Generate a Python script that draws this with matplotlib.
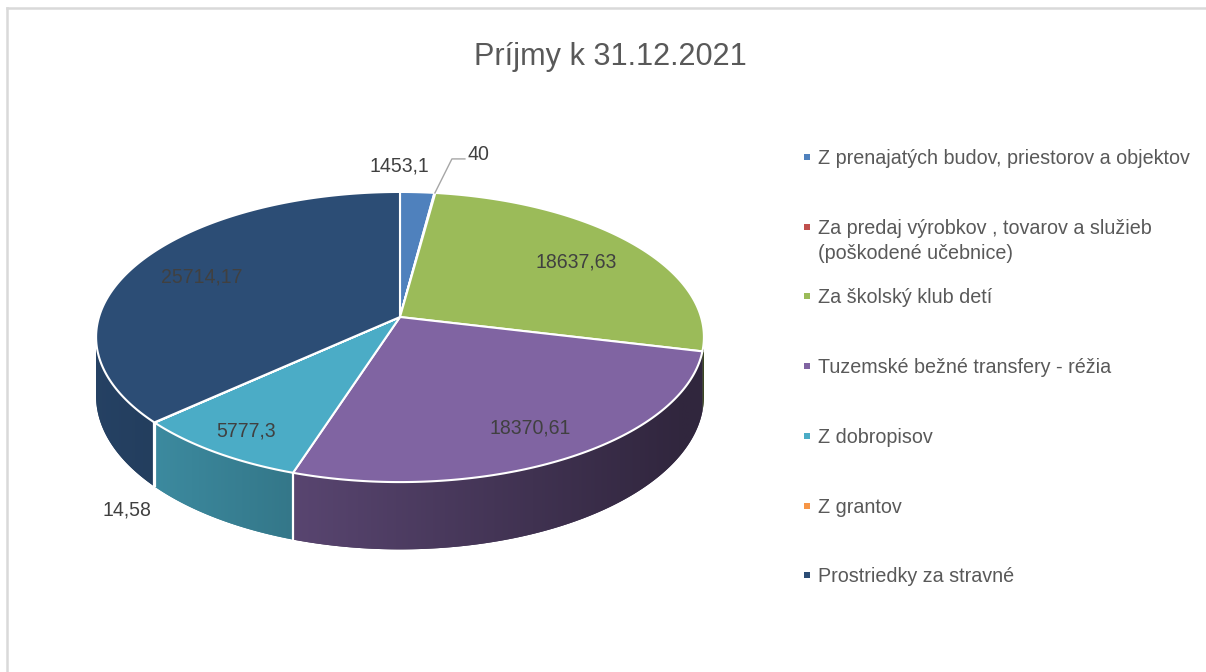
import numpy as np
import matplotlib
matplotlib.use("Agg")
import matplotlib.pyplot as plt
from matplotlib import font_manager
from matplotlib.patches import Polygon
from matplotlib.lines import Line2D
from matplotlib.colors import to_rgb

# ---------------- data ----------------
title = "Príjmy k 31.12.2021"
categories = [
    "Z prenajatých budov, priestorov a objektov",
    "Za predaj výrobkov , tovarov a služieb\n(poškodené učebnice)",
    "Za školský klub detí",
    "Tuzemské bežné transfery - réžia",
    "Z dobropisov",
    "Z grantov",
    "Prostriedky za stravné",
]
values = [1453.1, 40, 18637.63, 18370.61, 5777.3, 14.58, 25714.17]
value_labels = ["1453,1", "40", "18637,63", "18370,61", "5777,3", "14,58", "25714,17"]
colors = ["#4F81BD", "#C0504D", "#9BBB59", "#8064A2", "#4BACC6", "#F79646", "#2C4D75"]

# ---------------- fonts ----------------
names = {f.name for f in font_manager.fontManager.ttflist}
narrow = "Liberation Sans Narrow" in names
FONT = "Liberation Sans Narrow" if narrow else "Liberation Sans"
SC = 1.0 if narrow else 0.85
SCL = 1.0 if narrow else 0.9

W, H, DPI = 1206, 672, 100
fig = plt.figure(figsize=(W / DPI, H / DPI), dpi=DPI)
ax = fig.add_axes([0, 0, 1, 1])
ax.axis("off")


def pt(px):
    return px * 72 / DPI


# ---------------- 3D pie geometry ----------------
CX, CY = 400, 317      # projected centre of the top face
RX, RY = 301, 142.3    # projected radii
K = 0.138              # perspective factor
DEPTH = 58             # wall height


def proj(theta, r=1.0, down=0.0):
    t = np.radians(theta)
    den = 1 + K * r * np.cos(t)
    x = CX + RX * r * np.sin(t) / den
    y = CY - RY * r * np.cos(t) / den + down / den
    return x, y


total = float(np.sum(values))
cum = np.concatenate([[0.0], np.cumsum(values)]) / total * 360.0
tv1 = np.degrees(np.arccos(-K))
tv2 = 360.0 - tv1


def shade(x):
    return np.clip(0.85 - 0.0008 * (x - 95), 0.38, 0.9)


# walls: one polygon per slice, filled by a horizontal gradient image
for i, (a0, a1) in enumerate(zip(cum[:-1], cum[1:])):
    lo, hi = max(a0, tv1), min(a1, tv2)
    if hi <= lo:
        continue
    n = max(2, int((hi - lo) / 0.25) + 2)
    th = np.linspace(lo, hi, n)
    top = [proj(t) for t in th]
    bot = [proj(t, down=DEPTH) for t in th[::-1]]
    verts = np.array(top + bot)
    base = np.array(to_rgb(colors[i]))
    poly = Polygon(verts, closed=True, facecolor=base * float(shade(verts[:, 0].mean())),
                   edgecolor="none", lw=0, zorder=1)
    ax.add_patch(poly)
    xmin, xmax = verts[:, 0].min() - 1, verts[:, 0].max() + 1
    ymin, ymax = verts[:, 1].min() - 1, verts[:, 1].max() + 1
    xs = np.linspace(xmin, xmax, 200)
    img = np.clip(base[None, None, :] * shade(xs)[None, :, None], 0, 1)
    im = ax.imshow(img, extent=[xmin, xmax, ymax, ymin], aspect="auto",
                   interpolation="bilinear", zorder=1.5)
    im.set_clip_path(poly)

# wall separators (skip the ones hugging the silhouette)
for a in cum[1:-1]:
    if tv1 + 10 < a < tv2 - 10:
        x0, y0 = proj(a)
        x1, y1 = proj(a, down=DEPTH)
        ax.plot([x0, x1], [y0, y1], color="white", lw=1.6, zorder=2, solid_capstyle="butt")

# top faces
for i, (a0, a1) in enumerate(zip(cum[:-1], cum[1:])):
    n = max(2, int((a1 - a0) / 0.5) + 2)
    th = np.linspace(a0, a1, n)
    pts = [(CX, CY)] + [proj(t) for t in th]
    ax.add_patch(Polygon(pts, closed=True, facecolor=colors[i], edgecolor="white",
                         lw=1.5, joinstyle="round", zorder=3))

# ---------------- data labels ----------------
LBL = pt(23) * SC
LCOL = "#404040"
cap = 0.716 * 23 * SC
inside_r = {2: 0.75, 3: 0.8, 4: 0.85, 6: 0.75}
for i, r in inside_r.items():
    mid = (cum[i] + cum[i + 1]) / 2
    x, y = proj(mid, r=r)
    ax.text(x, y + cap / 2, value_labels[i], fontsize=LBL, family=FONT, color=LCOL,
            ha="center", va="baseline", zorder=5)

# blue slice label (outside, above)
x, y = proj(cum[1])
ax.text(x - 5, y - 28 + cap / 2, value_labels[0], fontsize=LBL, family=FONT, color=LCOL,
        ha="right", va="baseline", zorder=5)

# red slice label with leader
x, y = proj((cum[1] + cum[2]) / 2)
ax.plot([x, x + 17, x + 30], [y, y - 34, y - 34], color="#A6A6A6", lw=1.0, zorder=4)
ax.text(x + 33, y - 40 + cap / 2, value_labels[1], fontsize=LBL, family=FONT, color=LCOL,
        ha="left", va="baseline", zorder=5)

# orange slice label (outside, below)
x, y = proj((cum[5] + cum[6]) / 2, down=DEPTH)
ax.text(x - 3, y + 22.5 + cap / 2, value_labels[5], fontsize=LBL, family=FONT, color=LCOL,
        ha="right", va="baseline", zorder=5)

# ---------------- title ----------------
ax.text(610, 65, title, fontsize=pt(36) * SC, family=FONT, color="#595959",
        ha="center", va="baseline")

# ---------------- legend ----------------
LEG = pt(22) * SCL
lcap = 0.716 * 22 * SCL
y0, step, lstep = 157, 69.7, 25.5
for i, (name, c) in enumerate(zip(categories, colors)):
    yc = y0 + i * step
    ax.scatter([807], [yc], marker="s", s=pt(6.5) ** 2, color=c, linewidths=0, zorder=5)
    for j, line in enumerate(name.split("\n")):
        ax.text(818, yc + j * lstep + lcap / 2, line, fontsize=LEG, family=FONT,
                color="#595959", ha="left", va="baseline")

ax.set_xlim(0, W)
ax.set_ylim(H, 0)

# ---------------- frame ----------------
fig.add_artist(Line2D([7 / W, 1.0], [1 - 8 / H, 1 - 8 / H], color="#D9D9D9", lw=pt(2.5)))
fig.add_artist(Line2D([7 / W, 7 / W], [0, 1 - 8 / H], color="#D9D9D9", lw=pt(2.5)))

fig.savefig("out.png", dpi=DPI)
